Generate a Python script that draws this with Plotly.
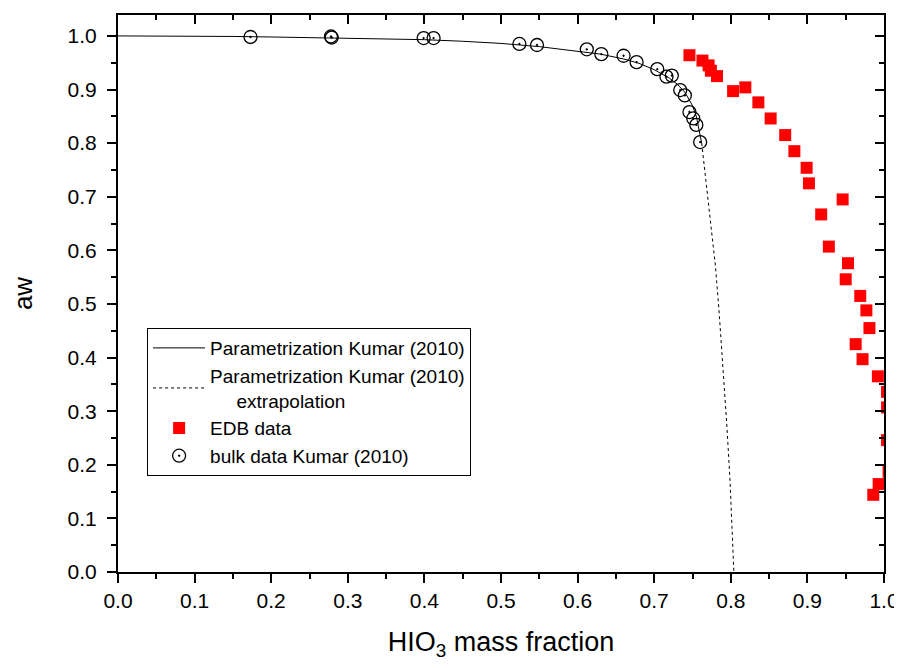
import plotly.graph_objects as go

# Parametrization (solid)
curve_x = [0.0, 0.05, 0.1, 0.15, 0.2, 0.25, 0.3, 0.35, 0.4, 0.45, 0.5, 0.55, 0.6, 0.63,
           0.66, 0.68, 0.70, 0.72, 0.73, 0.74, 0.75, 0.755, 0.762]
curve_y = [1.000, 1.000, 0.9995, 0.999, 0.998, 0.997, 0.996, 0.995, 0.993, 0.990, 0.986,
           0.980, 0.972, 0.966, 0.957, 0.949, 0.937, 0.921, 0.910, 0.895, 0.870, 0.850, 0.800]

# Extrapolation (dotted)
extra_x = [0.762, 0.766, 0.770, 0.775, 0.780, 0.785, 0.790, 0.795, 0.799, 0.802, 0.804]
extra_y = [0.80, 0.75, 0.70, 0.64, 0.57, 0.48, 0.38, 0.27, 0.17, 0.08, 0.0]

# EDB data (red squares)
edb_x = [0.746, 0.763, 0.771, 0.774, 0.782, 0.803, 0.819, 0.836, 0.852, 0.871, 0.883,
         0.899, 0.902, 0.946, 0.918, 0.928, 0.953, 0.950, 0.969, 0.977, 0.981, 0.963,
         0.972, 0.992, 1.004, 1.004, 1.004, 1.006, 0.993, 0.986]
edb_y = [0.964, 0.954, 0.945, 0.935, 0.925, 0.897, 0.904, 0.876, 0.846, 0.815, 0.785,
         0.754, 0.725, 0.695, 0.667, 0.607, 0.576, 0.546, 0.515, 0.488, 0.455, 0.425,
         0.397, 0.365, 0.336, 0.307, 0.246, 0.187, 0.164, 0.144]

# Bulk data Kumar (2010) (open circles)
bulk_x = [0.173, 0.278, 0.279, 0.399, 0.412, 0.524, 0.547, 0.612, 0.631, 0.660, 0.677,
          0.704, 0.716, 0.723, 0.734, 0.740, 0.746, 0.751, 0.755, 0.760]
bulk_y = [0.998, 0.999, 0.997, 0.996, 0.996, 0.985, 0.983, 0.975, 0.966, 0.963, 0.951,
          0.938, 0.924, 0.926, 0.899, 0.889, 0.858, 0.846, 0.834, 0.802]

x_ticks = [0.0, 0.1, 0.2, 0.3, 0.4, 0.5, 0.6, 0.7, 0.8, 0.9, 1.0]
y_ticks = [0.0, 0.1, 0.2, 0.3, 0.4, 0.5, 0.6, 0.7, 0.8, 0.9, 1.0]
x_range = [0.0, 1.0]
y_range = [0.0, 1.039]

FONT = "Liberation Sans, Arial, sans-serif"

fig = go.Figure()
fig.add_trace(go.Scatter(x=curve_x, y=curve_y, mode="lines",
                         line=dict(color="black", width=1),
                         name="Parametrization Kumar (2010)"))
fig.add_trace(go.Scatter(x=extra_x, y=extra_y, mode="lines",
                         line=dict(color="black", width=1, dash="dot"),
                         name="Parametrization Kumar (2010)<br>" + "\u00a0" * 5 + "extrapolation"))
fig.add_trace(go.Scatter(x=edb_x, y=edb_y, mode="markers",
                         marker=dict(symbol="square", size=12, color="#ff0000",
                                     line=dict(width=0)),
                         name="EDB data"))
fig.add_trace(go.Scatter(x=bulk_x, y=bulk_y, mode="markers",
                         marker=dict(symbol="circle-open-dot", size=13, color="black",
                                     line=dict(width=1.3, color="black")),
                         name="bulk data Kumar (2010)"))
# invisible trace for mirrored (inside-tick) axes
fig.add_trace(go.Scatter(x=[None], y=[None], xaxis="x2", yaxis="y2",
                         showlegend=False, hoverinfo="skip"))

axis_common = dict(showline=True, linewidth=2, linecolor="black", showgrid=False,
                   zeroline=False, tickwidth=2, tickcolor="black", automargin=False)

# page body has an 8px margin: figure is 894x660 placed at (8, 8)
fig.update_layout(
    width=894, height=660,
    margin=dict(l=110, r=18, t=7, b=96),
    paper_bgcolor="white", plot_bgcolor="white",
    font=dict(family=FONT, color="black", size=20),
    showlegend=True,
    xaxis=dict(range=x_range, tickvals=x_ticks, ticktext=[f"{v:.1f}" for v in x_ticks],
               ticks="outside", ticklen=9,
               minor=dict(dtick=0.05, tick0=0, ticks="outside", ticklen=5, tickwidth=2,
                          tickcolor="black"),
               tickfont=dict(size=21, family=FONT),
               title=dict(text="HIO<sub>3</sub> mass fraction", font=dict(size=27, family=FONT),
                          standoff=21),
               **axis_common),
    yaxis=dict(range=y_range, tickvals=y_ticks, ticktext=[f"{v:.1f}" for v in y_ticks],
               ticks="outside", ticklen=9, ticklabelstandoff=6,
               minor=dict(dtick=0.05, tick0=0, ticks="outside", ticklen=5, tickwidth=2,
                          tickcolor="black"),
               tickfont=dict(size=21, family=FONT),
               title=dict(text="aw", font=dict(size=26, family=FONT), standoff=41),
               **axis_common),
    xaxis2=dict(range=x_range, overlaying="x", side="top", tickvals=x_ticks,
                showticklabels=False, ticks="inside", ticklen=9,
                minor=dict(dtick=0.05, tick0=0, ticks="inside", ticklen=5, tickwidth=2,
                           tickcolor="black"),
                **axis_common),
    yaxis2=dict(range=y_range, overlaying="y", side="right", tickvals=y_ticks,
                showticklabels=False, ticks="inside", ticklen=9,
                minor=dict(dtick=0.05, tick0=0, ticks="inside", ticklen=5, tickwidth=2,
                           tickcolor="black"),
                **axis_common),
    legend=dict(x=0.038, y=0.438, xanchor="left", yanchor="top",
                bgcolor="white", bordercolor="black", borderwidth=1,
                font=dict(size=19, family=FONT), itemwidth=52,
                tracegroupgap=0),
)

fig.write_html("out.html")
